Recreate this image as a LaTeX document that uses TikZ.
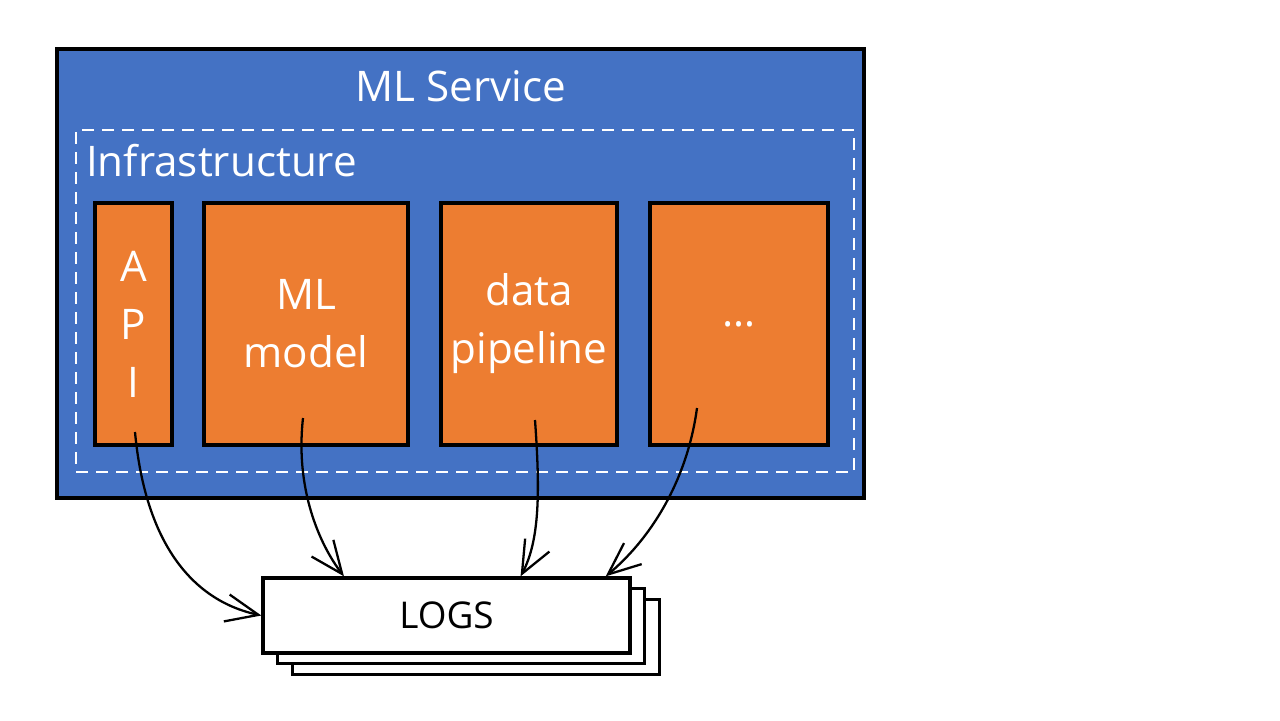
\documentclass[tikz,border=0pt]{standalone}
\usepackage{fontspec}
\setmainfont{Open Sans}
\usetikzlibrary{arrows.meta}
\usetikzlibrary{calc}

\definecolor{svcblue}{HTML}{4472C4}
\definecolor{partorange}{HTML}{ED7D31}
\newcommand\sketchfont{\fontsize{24}{33}\selectfont}

\begin{document}
\begin{tikzpicture}[x=0.02cm,y=-0.02cm,
  svcbox/.style={draw=black,fill=svcblue,line width=1.9pt,
    minimum width=16.14cm,minimum height=8.98cm},
  infra/.style={draw=white,dash pattern=on 0.24cm off 0.16cm,line width=1.5pt,
    minimum width=15.56cm,minimum height=6.84cm},
  part/.style={draw=black,fill=partorange,line width=1.9pt,minimum height=4.84cm,
    text=white,font=\sketchfont,align=center},
  logpage/.style={draw=black,fill=white,line width=1.9pt,
    minimum width=7.34cm,minimum height=1.5cm},
  lbl/.style={text=white,font=\sketchfont},
  flow/.style={line width=1.3pt,-{Straight Barb[length=0.65cm,width=0.55cm]}}]
  \useasboundingbox (0,0) rectangle (1280,720);

  % service and its infrastructure
  \node[svcbox] (svc) at (460.5,273.5) {};
  \node[infra] (infra) at (465,301) {};
  \node[lbl] (svctitle) at (461,86) {ML Service};
  \node[lbl,anchor=west] (infratitle) at (80,161) {Infrastructure};

  % components
  \node[part,minimum width=1.54cm] (api) at (133.5,324) {A\\P\\I};
  \node[part,minimum width=4.08cm] (model) at (306,324) {ML\\model};
  \node[part,minimum width=3.52cm] (pipe) at (529,324) {data\\pipeline};
  \node[part,minimum width=3.56cm] (more) at (739,324) {\ldots};

  % stack of logs
  \node[logpage] (logs3) at (476,637) {};
  \node[logpage] (logs2) at (461,626) {};
  \node[logpage,font=\fontsize{21}{25}\selectfont] (logs) at (446.5,615.5) {LOGS};

  \coordinate (apiout) at (135,432);
  \coordinate (modelout) at (303,418);
  \coordinate (pipeout) at (535,420);
  \coordinate (moreout) at (697,408);

  \draw[flow] (apiout) .. controls (145,540) and (190,600) .. (logs.west);
  \draw[flow] (modelout) .. controls (295,490) and (320,545)
    .. ($(logs.north west)!0.223!(logs.north east)$);
  \draw[flow] (pipeout) .. controls (540,490) and (540,540)
    .. ($(logs.north west)!0.70!(logs.north east)$);
  \draw[flow] (moreout) .. controls (688,475) and (655,535)
    .. ($(logs.north west)!0.93!(logs.north east)$);
\end{tikzpicture}
\end{document}
